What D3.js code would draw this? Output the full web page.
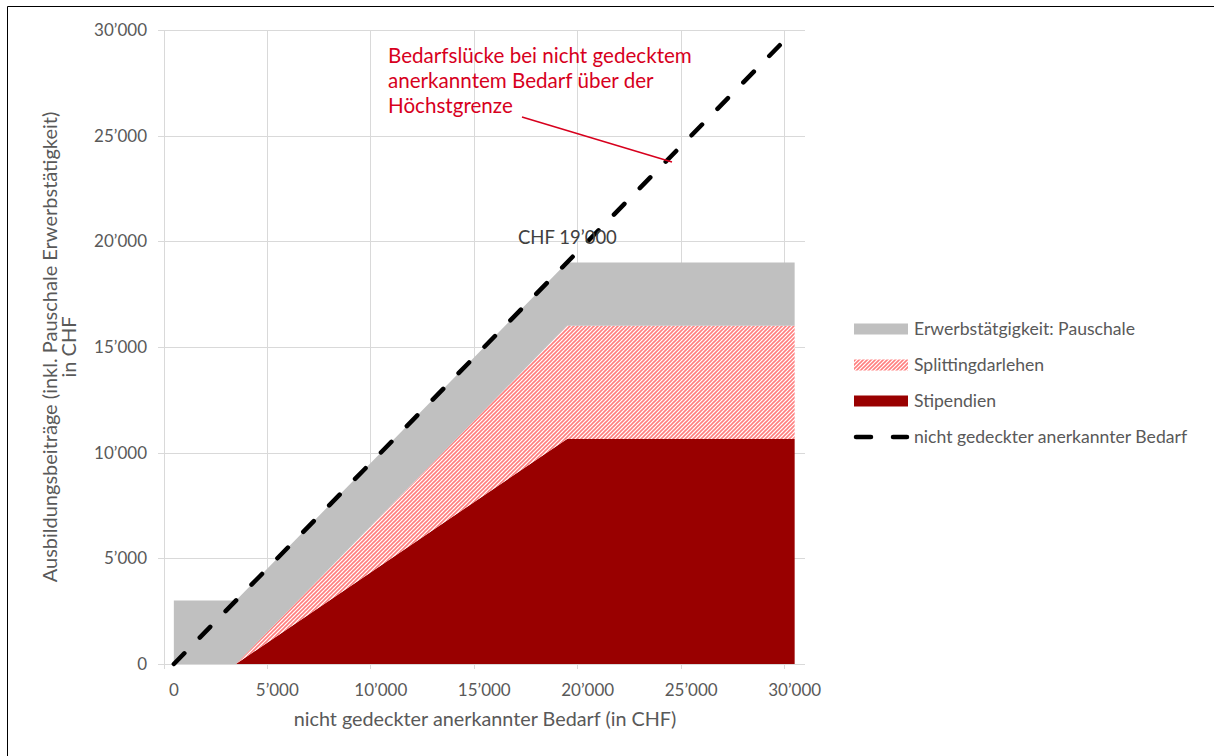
<!DOCTYPE html>
<html>
<head>
<meta charset="utf-8">
<script src="https://cdn.jsdelivr.net/npm/d3@7"></script>
<style>
  body { margin: 0; background: #fff; }
  text { font-family: Lato, "Open Sans", sans-serif; }
</style>
</head>
<body>
<div id="chart"></div>
<script>
    var width = 1214;
    var height = 756;

    // breakpoints of the need (x) and the stacked contributions
    var bedarf = [0, 3000, 19000, 30000];
    var stipendien = [0, 0, 10650, 10650];
    var splitting = [0, 0, 5350, 5350];
    var pauschale = [3000, 3000, 3000, 3000];

    // dashed line: nicht gedeckter anerkannter Bedarf
    var lineX = [0, 30000];
    var lineY = [0, 30000];

    var xTicks = [0, 5000, 10000, 15000, 20000, 25000, 30000];
    var yTicks = [0, 5000, 10000, 15000, 20000, 25000, 30000];

    var seriesNames = ["Stipendien", "Splittingdarlehen", "Erwerbstätgigkeit: Pauschale"];
    var seriesFill = ["#990000", "url(#hatch)", "#c0c0c0"];

    var fmt = function(v){
      return v === 0 ? "0" : d3.format(",")(v).replace(/,/g, "\u2019");
    };

    var svg = d3.select("#chart")
          .append("svg")
          .attr("width", width)
          .attr("height", height);

    // upward diagonal hatch, pixel aligned
    var defs = svg.append("defs");
    var pat = defs.append("pattern")
      .attr("id", "hatch")
      .attr("patternUnits", "userSpaceOnUse")
      .attr("width", 4)
      .attr("height", 4);
    pat.append("rect").attr("width", 4).attr("height", 4).attr("fill", "#fff");
    pat.append("path")
      .attr("d", "M-1,1L1,-1M0,4L4,0M3,5L5,3")
      .attr("stroke", "#ff7f7f").attr("stroke-width", 1.6);

    // frame (cut off at right/bottom in the original)
    svg.append("path")
      .attr("d", "M7.5," + height + "V6.5H" + width)
      .attr("fill", "none")
      .attr("stroke", "#000")
      .attr("stroke-width", 1);

    // category style axis: half a category (500) padding on both sides
    var x = d3.scaleLinear().domain([-500, 30500]).range([163.5, 805]);
    var y = d3.scaleLinear().domain([0, 30000]).range([664, 30]);

    var grid = svg.append("g");
    // horizontal gridlines + outer ticks
    grid.selectAll(".hg")
      .data(yTicks.filter(function(d){ return d > 0; }))
      .enter().append("line")
      .attr("x1", 158).attr("x2", x(30500))
      .attr("y1", function(d){ return Math.round(y(d)) + 0.5; })
      .attr("y2", function(d){ return Math.round(y(d)) + 0.5; })
      .attr("stroke", "#d9d9d9");
    // vertical gridlines at category boundaries
    grid.selectAll(".vg")
      .data(xTicks.map(function(d){ return d - 500; }))
      .enter().append("line")
      .attr("x1", function(d){ return Math.round(x(d)) + 0.5; })
      .attr("x2", function(d){ return Math.round(x(d)) + 0.5; })
      .attr("y1", y(30000)).attr("y2", y(0) + 5)
      .attr("stroke", "#d9d9d9");

    // stacked areas
    var rows = bedarf.map(function(b, i){
      return { bedarf: b, s0: stipendien[i], s1: splitting[i], s2: pauschale[i] };
    });
    var stack = d3.stack().keys(["s0", "s1", "s2"]);
    var layers = stack(rows);

    var area = d3.area()
      .x(function(d){ return x(d.data.bedarf); })
      .y0(function(d){ return y(d[0]); })
      .y1(function(d){ return y(d[1]); });

    svg.append("g").selectAll("path")
      .data(layers)
      .enter().append("path")
      .attr("d", area)
      .attr("fill", function(d, i){ return seriesFill[i]; });

    // x axis line
    svg.append("line")
      .attr("x1", 158).attr("x2", x(30500))
      .attr("y1", 664.5).attr("y2", 664.5)
      .attr("stroke", "#d9d9d9");

    // dashed need line
    var line = d3.line()
      .x(function(d){ return x(d[0]); })
      .y(function(d){ return y(d[1]); });
    svg.append("path")
      .datum(lineX.map(function(v, i){ return [v, lineY[i]]; }))
      .attr("d", line)
      .attr("fill", "none")
      .attr("stroke", "#000")
      .attr("stroke-width", 4.5)
      .attr("stroke-linecap", "round")
      .attr("stroke-dasharray", "15,22");

    // tick labels
    svg.append("g").selectAll("text")
      .data(xTicks)
      .enter().append("text")
      .attr("x", function(d){ return x(d); })
      .attr("y", 696)
      .attr("text-anchor", "middle")
      .attr("font-size", 17)
      .attr("fill", "#595959")
      .text(fmt);

    svg.append("g").selectAll("text")
      .data(yTicks)
      .enter().append("text")
      .attr("x", 147)
      .attr("y", function(d){ return y(d); })
      .attr("dy", "0.35em")
      .attr("text-anchor", "end")
      .attr("font-size", 17)
      .attr("fill", "#595959")
      .text(fmt);

    // axis titles
    svg.append("text")
      .attr("x", 485)
      .attr("y", 726)
      .attr("text-anchor", "middle")
      .attr("font-size", 19.8)
      .attr("fill", "#595959")
      .text("nicht gedeckter anerkannter Bedarf (in CHF)");

    var yt = svg.append("text")
      .attr("transform", "translate(57,347) rotate(-90)")
      .attr("text-anchor", "middle")
      .attr("font-size", 20)
      .attr("fill", "#595959");
    yt.append("tspan").attr("x", 0).attr("y", 0)
      .text("Ausbildungsbeiträge (inkl. Pauschale Erwerbstätigkeit)");
    yt.append("tspan").attr("x", 0).attr("y", 19)
      .text("in CHF");

    // annotations
    svg.append("text")
      .attr("x", 518)
      .attr("y", 244)
      .attr("font-family", "'Liberation Sans', Arial, sans-serif")
      .attr("font-size", 18.5)
      .attr("fill", "#404040")
      .text("CHF 19\u2019000");

    var noteLines = ["Bedarfslücke bei nicht gedecktem", "anerkanntem Bedarf über der", "Höchstgrenze"];
    svg.append("g").selectAll("text")
      .data(noteLines)
      .enter().append("text")
      .attr("x", 388)
      .attr("y", function(d, i){ return 63 + i * 25; })
      .attr("font-size", 20.6)
      .attr("fill", "#d7001d")
      .text(function(d){ return d; });

    svg.append("line")
      .attr("x1", 522).attr("y1", 117)
      .attr("x2", 672).attr("y2", 162)
      .attr("stroke", "#d7001d")
      .attr("stroke-width", 1.5);

    // legend
    var legendItems = [
      { name: seriesNames[2], fill: seriesFill[2] },
      { name: seriesNames[1], fill: seriesFill[1] },
      { name: seriesNames[0], fill: seriesFill[0] },
      { name: "nicht gedeckter anerkannter Bedarf", dash: true }
    ];
    var legend = svg.append("g").attr("transform", "translate(854,329)");
    var li = legend.selectAll("g")
      .data(legendItems)
      .enter().append("g")
      .attr("transform", function(d, i){ return "translate(0," + (i * 36) + ")"; });
    li.filter(function(d){ return !d.dash; })
      .append("rect")
      .attr("x", 0).attr("y", -5.5)
      .attr("width", 54).attr("height", 11)
      .attr("fill", function(d){ return d.fill; });
    li.filter(function(d){ return d.dash; })
      .append("line")
      .attr("x1", 2).attr("x2", 53)
      .attr("y1", 0).attr("y2", 0)
      .attr("stroke", "#000")
      .attr("stroke-width", 4.5)
      .attr("stroke-linecap", "round")
      .attr("stroke-dasharray", "15,22");
    li.append("text")
      .attr("x", 60)
      .attr("y", 0)
      .attr("dy", "0.35em")
      .attr("font-size", 17.6)
      .attr("fill", "#595959")
      .text(function(d){ return d.name; });
</script>
</body>
</html>
